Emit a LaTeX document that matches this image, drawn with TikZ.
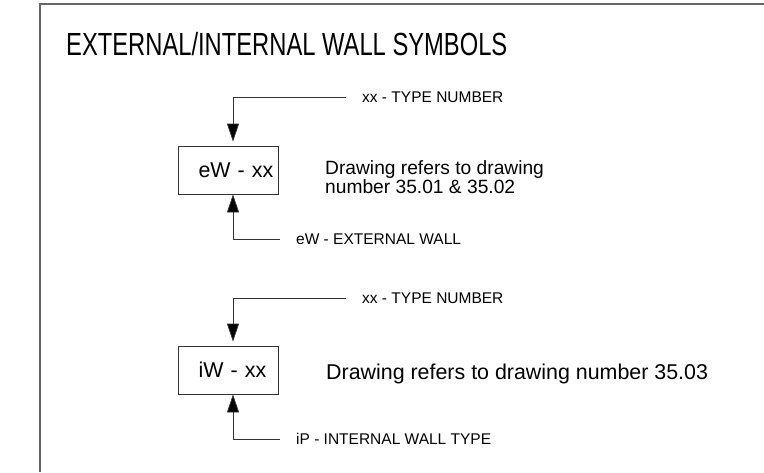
\documentclass[tikz,border=0pt]{standalone}
\usepackage{fontspec}
\setmainfont{Liberation Sans}
\newfontfamily\titlefont[FakeStretch=0.742]{Liberation Sans}
\usetikzlibrary{arrows.meta}
\definecolor{framegray}{rgb}{0.4,0.4,0.4}
\definecolor{leadgray}{rgb}{0.2,0.2,0.2}
\tikzset{
	wallbox/.style={draw=leadgray, line width=0.8pt, minimum height=48pt, text width=100pt, align=left, inner xsep=0pt, font=\fontsize{21.4}{24}\selectfont},
	note/.style={anchor=base west, inner sep=0pt, font=\fontsize{21.4}{24}\selectfont},
	lbl/.style={anchor=west, inner sep=0pt, font=\fontsize{15.5}{18}\selectfont},
	lead/.style={draw=leadgray, line width=0.8pt, -{Triangle[length=18pt,width=12pt,fill=black]}}
}

\begin{document}
\begin{tikzpicture}[x=1pt,y=-1pt]
		\useasboundingbox (0,0) rectangle (764,472);
		\draw[framegray, line width=1.6pt] (40,472) -- (40,3.7) -- (764,3.7);
		\node[anchor=base west, inner sep=0pt, font=\titlefont\fontsize{32}{36}\selectfont] (title) at (66,55) {EXTERNAL/INTERNAL WALL SYMBOLS};
		% external wall
		\node[wallbox] (ewbox) at (228.5,170) {\hspace*{20pt}eW - xx};
		\node[note, font=\fontsize{19.2}{22}\selectfont] (ewnote) at (325,174.3) {Drawing refers to drawing};
		\node[note, font=\fontsize{19.2}{22}\selectfont] (ewnum) at (325,193) {number 35.01 \& 35.02};
		\node[lbl] (ewtype) at (362,97.5) {xx - TYPE NUMBER};
		\node[lbl] (ewkey) at (296,239.5) {eW - EXTERNAL WALL};
		\draw[lead, shorten >=4pt] ([xshift=-16pt]ewtype.west) -| ([xshift=4.5pt]ewbox.north);
		\draw[lead] ([xshift=-16pt]ewkey.west) -| ([xshift=4.5pt]ewbox.south);
		% internal wall
		\node[wallbox] (iwbox) at (228.5,370) {\hspace*{20pt}iW - xx};
		\node[note] (iwnote) at (326,379.3) {Drawing refers to drawing number 35.03};
		\node[lbl] (iwtype) at (362,298.5) {xx - TYPE NUMBER};
		\node[lbl] (iwkey) at (296,439) {iP - INTERNAL WALL TYPE};
		\draw[lead, shorten >=4pt] ([xshift=-16pt]iwtype.west) -| ([xshift=4.5pt]iwbox.north);
		\draw[lead] ([xshift=-16pt]iwkey.west) -| ([xshift=4.5pt]iwbox.south);
	\end{tikzpicture}
\end{document}
